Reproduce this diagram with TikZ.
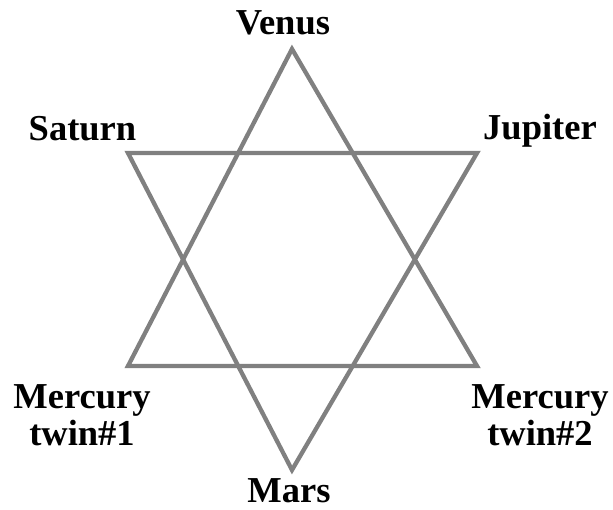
\documentclass[tikz,border=0pt]{standalone}
\usepackage{fontspec}
\setmainfont{Liberation Serif}
\definecolor{stargray}{RGB}{128,128,128}
\tikzset{
  starline/.style={draw=stargray, line width=4.3pt, line join=miter},
  planet/.style={font=\fontsize{36.5}{37}\selectfont\bfseries, inner sep=0pt, align=center, text=black}
}
\begin{document}
\begin{tikzpicture}[x=1pt,y=-1pt]
\useasboundingbox (0,0) rectangle (613,510);
% vertices
\coordinate (V) at (292,49);
\coordinate (ML) at (128,366);
\coordinate (MR) at (477,366);
\coordinate (S) at (128,153);
\coordinate (J) at (477,153);
\coordinate (Ma) at (292,470);
% triangles
\draw[starline] (V) -- (ML) -- (MR) -- cycle;
\draw[starline] (S) -- (J) -- (Ma) -- cycle;
% labels
\node[planet, anchor=base] (venus) at (283,35) {Venus};
\node[planet, anchor=base] (saturn) at (82.5,141) {Saturn};
\node[planet, anchor=base] (jupiter) at (540,140) {Jupiter};
\node[planet, anchor=north] (merc1) at (82,384) {Mercury\\twin\#1};
\node[planet, anchor=north] (merc2) at (540,384) {Mercury\\twin\#2};
\node[planet, anchor=base] (mars) at (289,502) {Mars};
\end{tikzpicture}
\end{document}
